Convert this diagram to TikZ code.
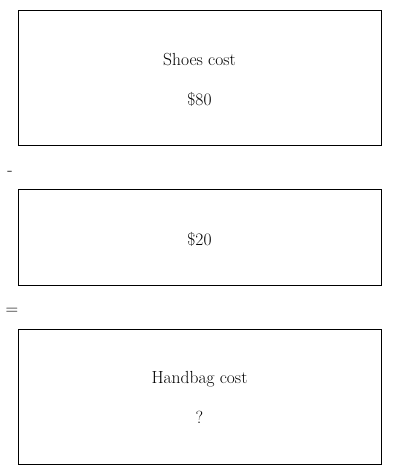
\documentclass[tikz,border=0pt]{standalone}
\begin{document}
\begin{tikzpicture}[x=1pt, y=-1pt, inner sep=0pt,
  barbox/.style={draw, line width=0.8pt, minimum width=363pt},
  txt/.style={font=\fontsize{17.5}{21}\selectfont}]
      \useasboundingbox (0,0) rectangle (400,475);
      \node[barbox, minimum height=135pt] (shoes) at (199.5,77.5) {};
      \node[txt] (shoesL) at (199.5,60) {Shoes cost};
      \node[txt] (shoesV) at (199.5,99) {\$80};
      \node[txt] (minus) at (10,173) {-};
      \node[barbox, minimum height=96pt] (diff) at (199.5,237) {};
      \node[txt] (diffV) at (199.5,239) {\$20};
      \node[txt] (equals) at (12,311) {=};
      \node[barbox, minimum height=135pt] (bag) at (199.5,396.5) {};
      \node[txt] (bagL) at (199.5,379) {Handbag cost};
      \node[txt] (bagV) at (199.5,417) {?};
   \end{tikzpicture}
\end{document}
